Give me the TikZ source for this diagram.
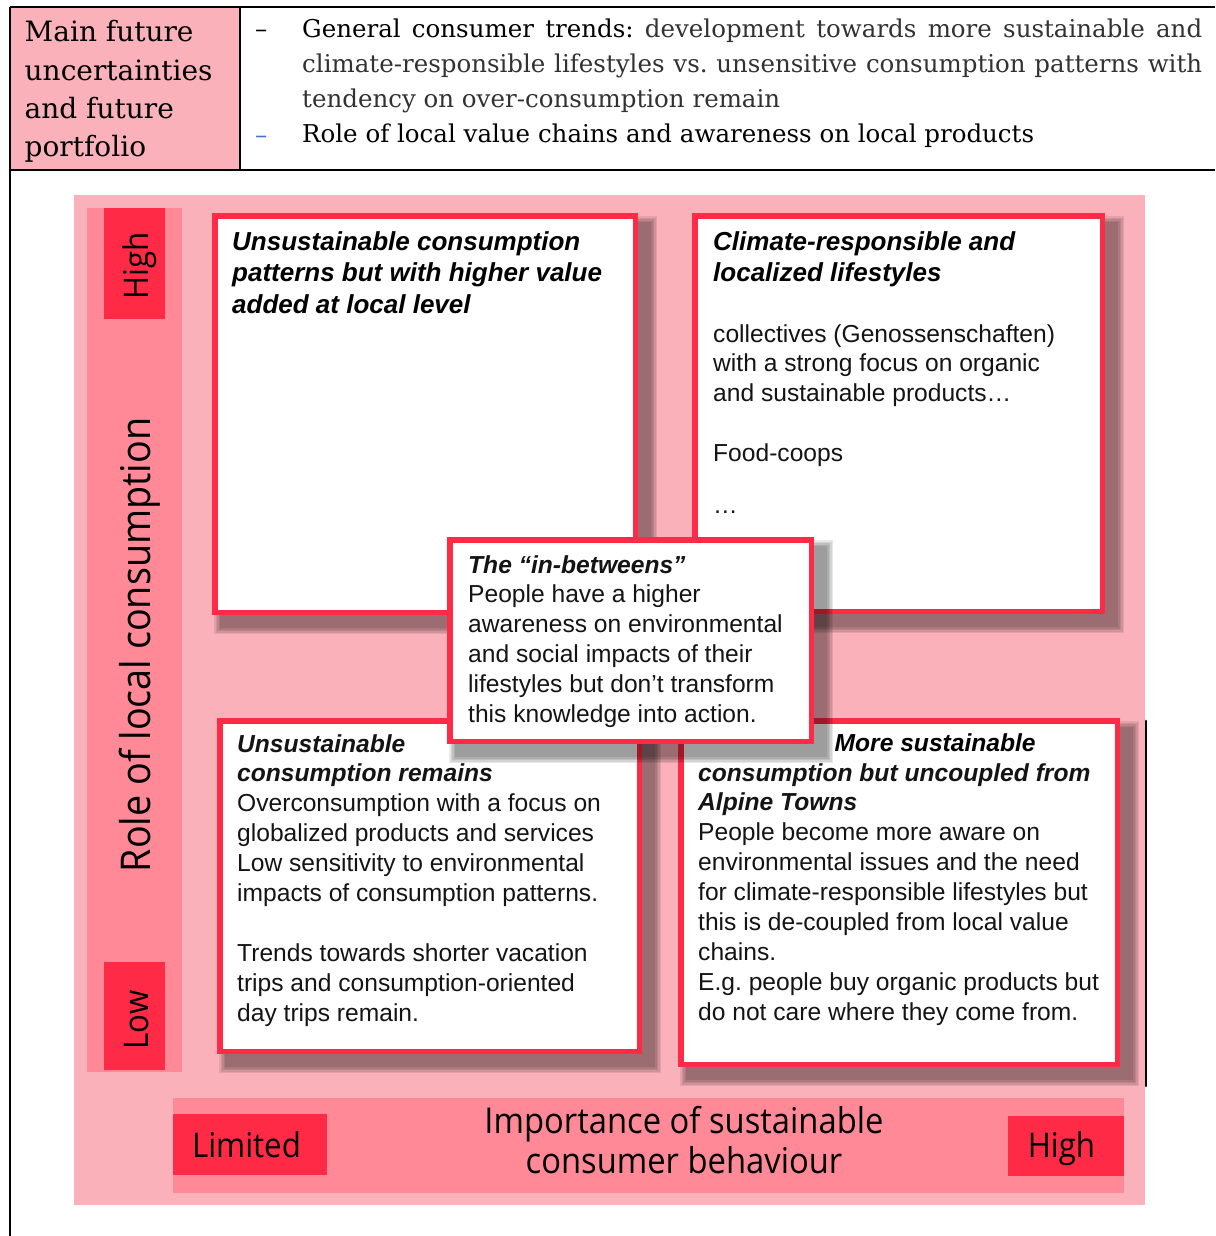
\documentclass[tikz,border=0pt]{standalone}
\usepackage{fontspec}
\setmainfont{Liberation Sans}
\newfontfamily\hdrfont{DejaVu Serif}
\newfontfamily\axfont[FakeStretch=0.92]{Open Sans}
\definecolor{bgpink}{RGB}{251,177,186}
\definecolor{barpink}{RGB}{255,137,150}
\definecolor{qred}{RGB}{255,42,69}
\definecolor{txtcol}{RGB}{20,20,20}
\definecolor{lightcol}{RGB}{50,50,50}
\definecolor{dashblue}{RGB}{68,114,196}
\newcommand{\lstack}[1]{\vtop{\halign{##\hfil\cr#1\crcr}}}
\newcommand{\cstack}[1]{\vtop{\halign{\hfil##\hfil\cr#1\crcr}}}
\newcommand{\bodyfont}{\fontsize{24.6}{29.9}\selectfont}
\newcommand{\bi}[1]{{\bfseries\itshape #1}}
\newcommand{\qshadow}[4]{\foreach \sh in {-3,-1.5,0,1.5,3}{\fill[black,opacity=0.092] ({#1+5-\sh},{#2+6-\sh}) rectangle ({#3+16+\sh},{#4+16+\sh});}}
\frenchspacing
\tikzset{
  qbox/.style={draw=qred, line width=5.5pt, fill=white, anchor=north west, inner sep=0pt, outer sep=0pt},
  txt/.style={anchor=base west, inner sep=0pt, text=txtcol, font=\bodyfont},
  ttl/.style={anchor=base west, inner sep=0pt, text=black, font={\fontsize{24.6}{29.9}\selectfont\bfseries\itshape}},
  bigttl/.style={anchor=base west, inner sep=0pt, text=black, font={\fontsize{26}{31.7}\selectfont\bfseries\itshape}},
  axlab/.style={inner sep=0pt, text=black},
  redtag/.style={fill=qred, draw=none, anchor=north west, inner sep=0pt, outer sep=0pt},
  rule/.style={line width=2.2pt, black},
}
\begin{document}
\begin{tikzpicture}[x=1pt,y=-1pt]
\useasboundingbox (0,0) rectangle (1215,1236);
% header table
\fill[bgpink] (10,7) rectangle (240,170);
\draw[rule] (10,7) -- (1215,7);
\draw[rule] (10,170) -- (1215,170);
\draw[rule] (10,7) -- (10,1236);
\draw[rule] (240,7) -- (240,170);
\node[anchor=base west, inner sep=0pt, font={\hdrfont\fontsize{28}{38.3}\selectfont}] (hleft) at (24.5,42)
  {\lstack{Main future\cr uncertainties\cr and future\cr portfolio}};
\node[anchor=base west, inner sep=0pt, font={\hdrfont\fontsize{24.5}{35}\selectfont}] (dash1) at (255,38) {–};
\node[anchor=base west, inner sep=0pt, text=dashblue, font={\hdrfont\fontsize{24.5}{35}\selectfont}] (dash2) at (255,143) {–};
\node[anchor=base west, inner sep=0pt, font={\hdrfont\fontsize{24.5}{35}\selectfont}] (hright) at (302,38)
  {\vtop{\hbox{\makebox[900pt][s]{\color{black}General consumer trends: \color{lightcol}development towards more sustainable and}}
         \hbox{\makebox[900pt][s]{\color{lightcol}climate-responsible lifestyles vs. unsensitive consumption patterns with}}
         \hbox{\color{lightcol}tendency on over-consumption remain}
         \hbox{\color{black}Role of local value chains and awareness on local products}}};
% matrix background
\fill[bgpink] (74,195) rectangle (1145,1205);
\fill[barpink] (87,208) rectangle (182,1072);
\fill[barpink] (173,1098) rectangle (1123.5,1193);
\node[redtag, minimum width=60.5pt, minimum height=111pt] (hightag) at (104,208) {};
\node[redtag, minimum width=60.5pt, minimum height=108pt] (lowtag) at (104,962) {};
\node[redtag, minimum width=154pt, minimum height=61pt] (limtag) at (173,1114) {};
\node[redtag, minimum width=115.5pt, minimum height=60pt] (hitag) at (1008,1116) {};
\node[axlab, rotate=90, anchor=base, font={\axfont\fontsize{34}{40}\selectfont}] (highv) at (148,266) {High};
\node[axlab, rotate=90, anchor=base, font={\axfont\fontsize{34}{40}\selectfont}] (lowv) at (148,1020) {Low};
\node[axlab, rotate=90, anchor=base, font={\axfont\fontsize{41}{48}\selectfont}] (role) at (150,645) {Role of local consumption};
\node[axlab, anchor=base, font={\axfont\fontsize{34}{40}\selectfont}] (limited) at (246.5,1157) {Limited};
\node[axlab, anchor=base, font={\axfont\fontsize{34}{40}\selectfont}] (highh) at (1061.5,1157) {High};
\node[axlab, anchor=base, font={\axfont\fontsize{35.6}{40}\selectfont}] (importance) at (684,1133)
  {\cstack{Importance of sustainable\cr consumer behaviour}};
\draw[line width=2.6pt, line cap=round] (1146,721) -- (1146,1086);
% top-left box
\qshadow{212}{213}{638}{615}
\node[qbox, minimum width=420.5pt, minimum height=396.5pt] (tl) at (214.75,215.75) {};
\node[bigttl] (tlt) at (232,250) {\lstack{Unsustainable consumption\cr patterns but with higher value\cr added at local level}};
% top-right box
\qshadow{692}{213}{1105}{614}
\node[qbox, minimum width=407.5pt, minimum height=395.5pt] (tr) at (694.75,215.75) {};
\node[bigttl] (trt) at (713,250) {\lstack{Climate-responsible and\cr localized lifestyles}};
\node[txt] (trb) at (713,342) {\lstack{collectives (Genossenschaften)\cr with a strong focus on organic\cr and sustainable products…\cr\cr Food-coops}};
\node[txt] (trdots) at (713,513) {…};
% bottom-left box
\qshadow{217}{718}{642}{1054}
\node[qbox, minimum width=419.5pt, minimum height=330.5pt] (bl) at (219.75,720.75) {};
\node[txt] (blt) at (237,752) {\lstack{\bi{Unsustainable}\cr \bi{consumption remains}\cr
  Overconsumption with a focus on\cr globalized products and services\cr Low sensitivity to environmental\cr
  impacts of consumption patterns.\cr\cr Trends towards shorter vacation\cr trips and consumption-oriented\cr day trips remain.}};
% bottom-right box
\qshadow{678}{718}{1120}{1067}
\node[qbox, minimum width=436.5pt, minimum height=343.5pt] (br) at (680.75,720.75) {};
\node[ttl] (brt1) at (834.5,751) {More sustainable};
\node[txt] (brt) at (698,781) {\lstack{\bi{consumption but uncoupled from}\cr \bi{Alpine Towns}\cr
  People become more aware on\cr environmental issues and the need\cr for climate-responsible lifestyles but\cr
  this is de-coupled from local value\cr chains.\cr E.g. people buy organic products but\cr do not care where they come from.}};
% centre box
\qshadow{447}{537}{814}{744}
\node[qbox, minimum width=361.5pt, minimum height=201.5pt] (mid) at (449.75,539.75) {};
\node[txt] (midt) at (468,573) {\lstack{\bi{The “in-betweens”}\cr People have a higher\cr awareness on environmental\cr
  and social impacts of their\cr lifestyles but don’t transform\cr this knowledge into action.}};
\end{tikzpicture}
\end{document}
